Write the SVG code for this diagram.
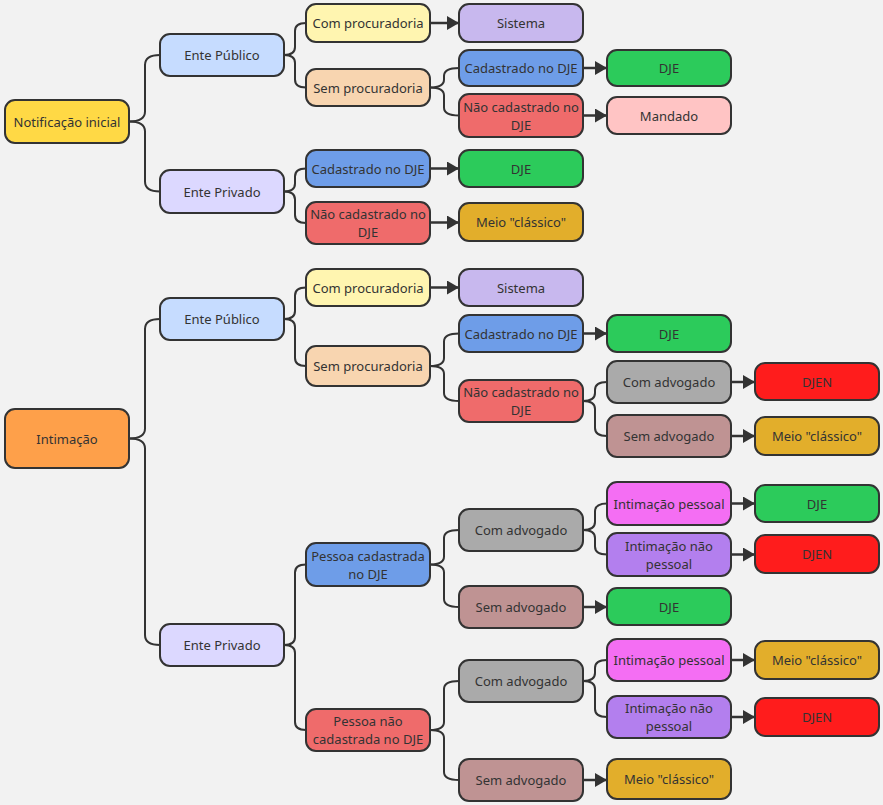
<svg xmlns="http://www.w3.org/2000/svg" width="883" height="805" viewBox="0 0 883 805">
<style>
rect{stroke:#333;stroke-width:2}
text{font-family:"Noto Sans","DejaVu Sans",sans-serif;font-size:13px;fill:#333;text-anchor:middle;dominant-baseline:central}
.c path{fill:none;stroke:#333;stroke-width:2}
.c line{stroke:#333;stroke-width:2.5;marker-end:url(#a)}
</style>
<defs><marker id="a" markerUnits="userSpaceOnUse" markerWidth="12" markerHeight="14" refX="12" refY="7" orient="auto"><path d="M0 0L12 7L0 14z" fill="#333"/></marker></defs>
<rect x="0" y="0" width="883" height="805" fill="#f2f2f2" style="stroke:none"/>
<g class="c" id="connectors">
<path d="M129 121.5 Q145 121.5 145 111.5 L145 65 Q145 55 160 55"/>
<path d="M129 121.5 Q145 121.5 145 131.5 L145 181.5 Q145 191.5 160 191.5"/>
<path d="M284 55 Q295 55 295 47 L295 31 Q295 23 306 23"/>
<path d="M284 55 Q295 55 295 63 L295 79.5 Q295 87.5 306 87.5"/>
<path d="M430 87.5 Q444 87.5 444 79.5 L444 76 Q444 68 459 68"/>
<path d="M430 87.5 Q444 87.5 444 95.5 L444 107.5 Q444 115.5 459 115.5"/>
<path d="M284 191.5 Q295 191.5 295 183.5 L295 176.5 Q295 168.5 306 168.5"/>
<path d="M284 191.5 Q295 191.5 295 199.5 L295 215 Q295 223 306 223"/>
<path d="M129 438.5 Q145 438.5 145 428.5 L145 329 Q145 319 160 319"/>
<path d="M129 438.5 Q145 438.5 145 448.5 L145 635 Q145 645 160 645"/>
<path d="M284 319 Q295 319 295 311 L295 295.5 Q295 287.5 306 287.5"/>
<path d="M284 319 Q295 319 295 327 L295 358 Q295 366 306 366"/>
<path d="M430 366 Q444 366 444 358 L444 341.5 Q444 333.5 459 333.5"/>
<path d="M430 366 Q444 366 444 374 L444 393 Q444 401 459 401"/>
<path d="M583 401 Q595 401 595 393 L595 390 Q595 382 607 382"/>
<path d="M583 401 Q595 401 595 409 L595 428 Q595 436 607 436"/>
<path d="M284 645 Q295 645 295 637 L295 572.5 Q295 564.5 306 564.5"/>
<path d="M284 645 Q295 645 295 653 L295 722 Q295 730 306 730"/>
<path d="M430 564.5 Q444 564.5 444 556.5 L444 538 Q444 530 459 530"/>
<path d="M430 564.5 Q444 564.5 444 572.5 L444 599 Q444 607 459 607"/>
<path d="M583 530 Q595 530 595 522 L595 511.5 Q595 503.5 607 503.5"/>
<path d="M583 530 Q595 530 595 538 L595 546.5 Q595 554.5 607 554.5"/>
<path d="M430 730 Q444 730 444 722 L444 689 Q444 681 459 681"/>
<path d="M430 730 Q444 730 444 738 L444 772 Q444 780 459 780"/>
<path d="M583 681 Q595 681 595 673 L595 668 Q595 660 607 660"/>
<path d="M583 681 Q595 681 595 689 L595 709 Q595 717 607 717"/>
<line x1="430" y1="23" x2="459" y2="23"/>
<line x1="583" y1="68" x2="607" y2="68"/>
<line x1="583" y1="115.5" x2="607" y2="115.5"/>
<line x1="430" y1="168.5" x2="459" y2="168.5"/>
<line x1="430" y1="222.5" x2="459" y2="222.5"/>
<line x1="430" y1="287.5" x2="459" y2="287.5"/>
<line x1="583" y1="333.5" x2="607" y2="333.5"/>
<line x1="731" y1="382" x2="755" y2="382"/>
<line x1="731" y1="436" x2="755" y2="436"/>
<line x1="731" y1="503.5" x2="755" y2="503.5"/>
<line x1="731" y1="554.5" x2="755" y2="554.5"/>
<line x1="583" y1="607" x2="607" y2="607"/>
<line x1="731" y1="660" x2="755" y2="660"/>
<line x1="731" y1="717" x2="755" y2="717"/>
<line x1="583" y1="780" x2="607" y2="780"/>
</g>
<g id="n1"><rect x="5" y="100" width="124" height="43" rx="10" fill="#ffd945"/><text x="67" y="121.5">Notificação inicial</text></g>
<g id="n2"><rect x="160" y="34" width="124" height="42" rx="10" fill="#c6dcff"/><text x="222" y="55">Ente Público</text></g>
<g id="n3"><rect x="160" y="170" width="124" height="43" rx="10" fill="#dcd8ff"/><text x="222" y="191.5">Ente Privado</text></g>
<g id="n4"><rect x="306" y="4" width="124" height="38" rx="10" fill="#fff5b0"/><text x="368" y="23">Com procuradoria</text></g>
<g id="n5"><rect x="306" y="69" width="124" height="37" rx="10" fill="#f8d5b0"/><text x="368" y="87.5">Sem procuradoria</text></g>
<g id="n6"><rect x="459" y="4" width="124" height="38" rx="10" fill="#c8b8ee"/><text x="521" y="23">Sistema</text></g>
<g id="n7"><rect x="459" y="50" width="124" height="36" rx="10" fill="#6e9de8"/><text x="521" y="68">Cadastrado no DJE</text></g>
<g id="n8"><rect x="459" y="94" width="124" height="43" rx="10" fill="#ef6b6b"/><text x="521" y="106.5">Não cadastrado no</text><text x="521" y="124.5">DJE</text></g>
<g id="n9"><rect x="607" y="50" width="124" height="36" rx="10" fill="#2ccb5b"/><text x="669" y="68">DJE</text></g>
<g id="n10"><rect x="607" y="97" width="124" height="37" rx="10" fill="#ffc4c4"/><text x="669" y="115.5">Mandado</text></g>
<g id="n11"><rect x="306" y="150" width="124" height="37" rx="10" fill="#6e9de8"/><text x="368" y="168.5">Cadastrado no DJE</text></g>
<g id="n12"><rect x="306" y="202" width="124" height="42" rx="10" fill="#ef6b6b"/><text x="368" y="214">Não cadastrado no</text><text x="368" y="232">DJE</text></g>
<g id="n13"><rect x="459" y="150" width="124" height="37" rx="10" fill="#2ccb5b"/><text x="521" y="168.5">DJE</text></g>
<g id="n14"><rect x="459" y="203" width="124" height="38" rx="10" fill="#e2ae2b"/><text x="521" y="222">Meio "clássico"</text></g>
<g id="m1"><rect x="5" y="409" width="124" height="59" rx="10" fill="#fea04a"/><text x="67" y="438.5">Intimação</text></g>
<g id="m2"><rect x="160" y="298" width="124" height="42" rx="10" fill="#c6dcff"/><text x="222" y="319">Ente Público</text></g>
<g id="m3"><rect x="306" y="269" width="124" height="37" rx="10" fill="#fff5b0"/><text x="368" y="287.5">Com procuradoria</text></g>
<g id="m4"><rect x="306" y="346" width="124" height="40" rx="10" fill="#f8d5b0"/><text x="368" y="366">Sem procuradoria</text></g>
<g id="m5"><rect x="459" y="269" width="124" height="37" rx="10" fill="#c8b8ee"/><text x="521" y="287.5">Sistema</text></g>
<g id="m6"><rect x="459" y="315" width="124" height="37" rx="10" fill="#6e9de8"/><text x="521" y="333.5">Cadastrado no DJE</text></g>
<g id="m7"><rect x="607" y="315" width="124" height="37" rx="10" fill="#2ccb5b"/><text x="669" y="333.5">DJE</text></g>
<g id="m8"><rect x="459" y="380" width="124" height="42" rx="10" fill="#ef6b6b"/><text x="521" y="392">Não cadastrado no</text><text x="521" y="410">DJE</text></g>
<g id="m9"><rect x="607" y="361" width="124" height="42" rx="10" fill="#aaaaaa"/><text x="669" y="382">Com advogado</text></g>
<g id="m10"><rect x="607" y="415" width="124" height="42" rx="10" fill="#bf9393"/><text x="669" y="436">Sem advogado</text></g>
<g id="m11"><rect x="755" y="363" width="124" height="37" rx="10" fill="#ff1c1c"/><text x="817" y="381.5">DJEN</text></g>
<g id="m12"><rect x="755" y="417" width="124" height="38" rx="10" fill="#e2ae2b"/><text x="817" y="436">Meio "clássico"</text></g>
<g id="m13"><rect x="160" y="624" width="124" height="42" rx="10" fill="#dcd8ff"/><text x="222" y="645">Ente Privado</text></g>
<g id="m14"><rect x="306" y="543" width="124" height="43" rx="10" fill="#6e9de8"/><text x="368" y="555.5">Pessoa cadastrada</text><text x="368" y="573.5">no DJE</text></g>
<g id="m15"><rect x="459" y="509" width="124" height="42" rx="10" fill="#aaaaaa"/><text x="521" y="530">Com advogado</text></g>
<g id="m16"><rect x="607" y="482" width="124" height="43" rx="10" fill="#f46ef3"/><text x="669" y="503.5">Intimação pessoal</text></g>
<g id="m17"><rect x="755" y="485" width="124" height="37" rx="10" fill="#2ccb5b"/><text x="817" y="503.5">DJE</text></g>
<g id="m18"><rect x="607" y="533" width="124" height="43" rx="10" fill="#b37fee"/><text x="669" y="545.5">Intimação não</text><text x="669" y="563.5">pessoal</text></g>
<g id="m19"><rect x="755" y="535" width="124" height="38" rx="10" fill="#ff1c1c"/><text x="817" y="554">DJEN</text></g>
<g id="m20"><rect x="459" y="586" width="124" height="42" rx="10" fill="#bf9393"/><text x="521" y="607">Sem advogado</text></g>
<g id="m21"><rect x="607" y="588" width="124" height="37" rx="10" fill="#2ccb5b"/><text x="669" y="606.5">DJE</text></g>
<g id="m22"><rect x="306" y="709" width="124" height="42" rx="10" fill="#ef6b6b"/><text x="368" y="721">Pessoa não</text><text x="368" y="739">cadastrada no DJE</text></g>
<g id="m23"><rect x="459" y="660" width="124" height="42" rx="10" fill="#aaaaaa"/><text x="521" y="681">Com advogado</text></g>
<g id="m24"><rect x="607" y="639" width="124" height="42" rx="10" fill="#f46ef3"/><text x="669" y="660">Intimação pessoal</text></g>
<g id="m25"><rect x="755" y="641" width="124" height="38" rx="10" fill="#e2ae2b"/><text x="817" y="660">Meio "clássico"</text></g>
<g id="m26"><rect x="607" y="696" width="124" height="42" rx="10" fill="#b37fee"/><text x="669" y="708">Intimação não</text><text x="669" y="726">pessoal</text></g>
<g id="m27"><rect x="755" y="698" width="124" height="38" rx="10" fill="#ff1c1c"/><text x="817" y="717">DJEN</text></g>
<g id="m28"><rect x="459" y="759" width="124" height="42" rx="10" fill="#bf9393"/><text x="521" y="780">Sem advogado</text></g>
<g id="m29"><rect x="607" y="759" width="124" height="40" rx="10" fill="#e2ae2b"/><text x="669" y="779">Meio "clássico"</text></g>
</svg>
